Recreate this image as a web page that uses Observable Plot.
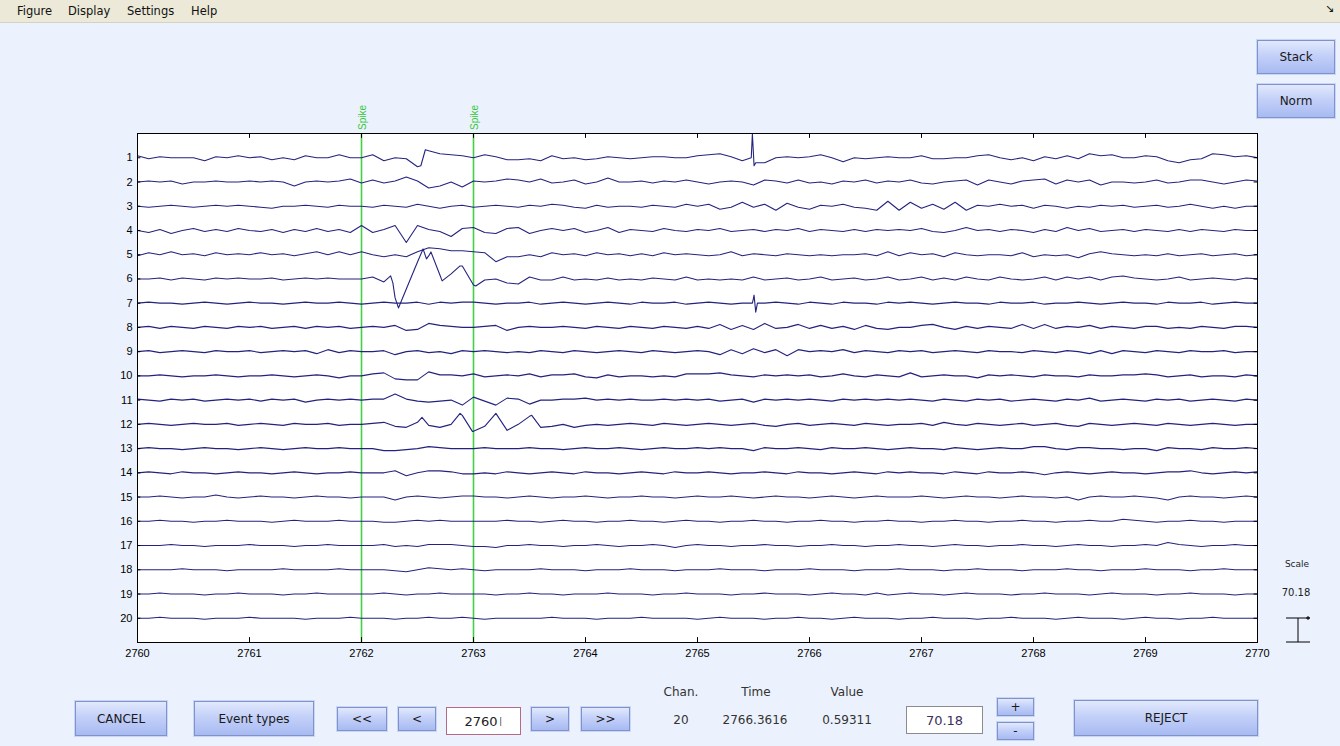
<!DOCTYPE html>
<html><head><meta charset="utf-8">
<script src="https://cdn.jsdelivr.net/npm/d3@7"></script>
<script src="https://cdn.jsdelivr.net/npm/@observablehq/plot@0.6"></script>
<style>
body{margin:0;width:1340px;height:746px;background:#ecf2fd;position:relative;overflow:hidden;font-family:"DejaVu Sans",sans-serif;}
#menu{position:absolute;left:0;top:0;width:1340px;height:22px;background:#ece9d8;border-bottom:1px solid #d6d2bf;font-size:11.5px;color:#111;z-index:2;}
#menu span{position:absolute;top:4px;}
#chart{position:absolute;left:0;top:0;}
.btn{position:absolute;box-sizing:border-box;border:1px solid #7f93c8;background:linear-gradient(#e2e9fd,#c3d0f8 45%,#a8baf2);box-shadow:0 0 0 1px #c9d6f8;font-size:12px;color:#1a1a1a;display:flex;align-items:center;justify-content:center;}
.inp{position:absolute;box-sizing:border-box;background:#fff;border:1px solid #8c8c8c;font-size:13px;color:#222;display:flex;align-items:center;justify-content:center;}
.lbl{position:absolute;font-size:12px;color:#333;transform:translateX(-50%);white-space:nowrap;}
</style></head><body>
<div id="menu"><span style="left:17px">Figure</span><span style="left:68px">Display</span><span style="left:127px">Settings</span><span style="left:191px">Help</span><span style="left:1325px;top:2px;font-size:11px">&#x2198;</span></div>
<div id="chart"></div>
<div class="btn" style="left:1257px;top:40px;width:78px;height:34px">Stack</div>
<div class="btn" style="left:1257px;top:84px;width:78px;height:34px">Norm</div>
<div class="lbl" style="left:1297px;top:559px;font-size:9px;color:#222">Scale</div>
<div class="lbl" style="left:1296px;top:587px;font-size:10px;color:#222">70.18</div>
<svg style="position:absolute;left:1280px;top:612px" width="40" height="36"><path d="M6,6H30M18,6V30M6,30H30M28,4V8M26,6H30" stroke="#000" stroke-width="1" fill="none"/></svg>
<div class="btn" style="left:75px;top:701px;width:92px;height:35px">CANCEL</div>
<div class="btn" style="left:194px;top:701px;width:120px;height:35px">Event types</div>
<div class="btn" style="left:337px;top:707px;width:50px;height:24px">&lt;&lt;</div>
<div class="btn" style="left:398px;top:707px;width:38px;height:24px">&lt;</div>
<div class="inp" style="left:446px;top:707px;width:75px;height:28px;border-color:#b26a86">2760<span style="font-weight:300;margin-left:1px">I</span></div>
<div class="btn" style="left:531px;top:707px;width:38px;height:24px">&gt;</div>
<div class="btn" style="left:581px;top:707px;width:49px;height:24px">&gt;&gt;</div>
<div class="lbl" style="left:681px;top:685px">Chan.</div>
<div class="lbl" style="left:756px;top:685px">Time</div>
<div class="lbl" style="left:847px;top:685px">Value</div>
<div class="lbl" style="left:681px;top:713px">20</div>
<div class="lbl" style="left:755px;top:713px">2766.3616</div>
<div class="lbl" style="left:847px;top:713px">0.59311</div>
<div class="inp" style="left:906px;top:706px;width:77px;height:28px;color:#403060">70.18</div>
<div class="btn" style="left:997px;top:698px;width:37px;height:18px">+</div>
<div class="btn" style="left:997px;top:722px;width:37px;height:18px">-</div>
<div class="btn" style="left:1074px;top:700px;width:184px;height:36px">REJECT</div>
<script>
// time axis
const t0 = 2760, t1 = 2770, dt = 0.1;
const xTicks = [2760, 2761, 2762, 2763, 2764, 2765, 2766, 2767, 2768, 2769, 2770];
const channels = d3.range(1, 21);
const spikeTimes = [2762, 2763];
const spikeLabel = "Spike";
const scaleValue = 70.18;           // µV per channel spacing
const unitsPerChannel = 24.24;      // amplitude units per channel spacing

// amplitudes sampled every 0.1 s from 2760.0 to 2770.0 (positive = up)
const ch1 = [2,-1,1,0,0,0,-3,1,0,2, 0,1,-2,0,-2,2,0,0,3,0, 0,3,-3,0,-1,-9,7,4,3,2, 0,3,1,-2,
 -2,-1,-3,2,-1,0,-2,-1,1,0, -1,0,1,1,0,0,2,3,4,1, -3,3,-5,0,1,0,1,3,0,-4, 0,-1,0,1,0,
 0,2,-1,-1,0,0,2,3,0,-2, 0,-3,1,-1,2,-1,4,2,3,0, 0,2,1,-3,-5,-2,-1,4,3,1, 2,0];
const ch2 = [0,1,0,1,-2,0,0,1,0,0, 1,0,1,0,-4,0,1,0,1,3, -1,2,-1,1,5,1,-6,-4,0,-5, 1,0,1,3,
 2,0,3,-1,0,2,-2,0,4,0, 0,1,-1,1,0,2,0,-2,0,1, 0,-3,2,1,-1,2,-1,0,-2,1, 0,2,-1,1,0,
 2,-1,-2,0,1,2,-3,2,0,-2, 1,2,3,-2,2,0,2,-3,0,0, -1,0,2,-1,0,2,2,0,-2,0, 2,1];
const ch3 = [0,-1,0,1,0,-1,0,1,0,1, 0,-1,-2,0,0,1,0,-1,1,0, 0,-1,1,0,-1,2,0,-2,0,1, -1,0,1,0,
 -1,1,0,2,1,-1,-2,1,-1,0, 0,-1,1,0,-1,2,0,2,-3,-1, 4,-1,2,-4,3,-1,-3,1,0,2, -1,-2,-4,5,-4,
 4,-2,2,-3,4,-4,1,0,2,0, 1,-2,1,0,-2,0,-1,1,0,1, -1,0,1,-1,0,2,0,-2,0,-2, 0,0];
const ch4 = [0,-2,1,-3,0,2,-1,1,-1,2, 0,-1,1,-2,1,-1,2,-1,1,-2, 5,-2,1,5,-12,5,1,-1,-6,2, 3,-2,-3,2,
 3,-3,0,2,0,2,-2,0,3,-2, 1,0,-1,2,0,-1,1,0,2,-1, 0,1,-1,1,0,2,-1,1,0,-1, 1,-1,1,0,1,
 0,2,-1,-2,0,3,0,1,-1,1, 0,-2,1,-1,3,0,2,-1,0,1, -1,1,0,-1,1,-1,1,0,-1,1, 0,0];
const ch5 = [-1,2,0,3,0,1,-1,2,0,1, 0,2,0,1,-1,1,3,0,3,0, 3,0,-2,0,-2,3,7,6,4,4, 3,2,-7,-2,
 -2,0,-2,2,0,1,-1,2,0,1, -1,1,-1,2,0,1,0,-1,0,3, -1,1,0,-1,1,0,-1,0,-1,0, 0,1,-1,3,-1,
 2,0,1,-2,2,0,-1,0,0,-1, 2,-2,0,-1,0,-3,1,3,1,0, -1,0,-1,1,-1,0,1,-1,0,1, -1,0];
const ch6 = [0,0,1,-1,1,0,-1,1,0,1, 0,0,1,-1,0,1,0,1,0,0, 0,2,-3,-19,-10,17,23,4,5,13, -6,-1,0,-4,
 -5,2,-1,-1,2,-1,0,-1,1,-1, 0,-1,1,0,-1,2,-1,0,-1,0, -1,2,-1,0,1,-1,0,2,-1,0, 1,-1,0,2,-1,
 0,2,-1,1,-1,2,0,-1,2,0, -1,0,2,-1,2,0,2,-1,2,3, 1,0,-1,0,2,-1,0,1,0,-1, 1,0];
const ch7 = [0,1,0,0,-1,0,1,0,-1,0, 1,0,0,-1,0,1,0,0,1,0, -1,0,1,0,0,1,-1,1,0,1, 1,0,-1,0,
 0,1,-1,0,1,0,-1,0,1,0, -1,1,0,0,1,-1,0,1,0,-1, 0,5,0,1,0,-1,1,0,-1,1, 0,0,-1,1,0,
 1,0,-1,0,1,0,0,-1,1,0, 0,1,-1,0,0,1,0,-1,0,1, 0,0,-1,1,0,0,1,-1,0,1, 0,0];
const ch8 = [0,1,-1,1,0,-1,1,0,-1,1, 0,1,-1,0,1,-1,1,0,1,-1, 0,1,0,2,-3,-2,4,2,1,0, 0,1,2,-3,
 0,1,0,0,1,0,-1,1,0,-1, 1,0,-1,1,0,-1,1,-1,3,-2, 2,-2,4,-1,0,3,-1,2,-1,1, -2,2,-1,-2,0,
 0,2,3,0,-2,1,-1,1,0,-1, 3,-1,3,-1,1,0,2,-1,1,0, -1,1,1,-1,0,-1,1,0,-1,1, 1,0];
const ch9 = [0,1,-1,0,1,0,-1,1,0,0, 1,-1,0,1,0,1,-2,2,-1,1, 0,0,1,-3,0,1,-1,0,-2,1, 0,1,0,-1,
 0,-1,1,0,-1,1,0,-1,0,1, 0,-1,1,0,-1,0,1,0,-3,2, -2,3,-1,2,-4,2,0,1,0,2, -1,1,0,-1,1,
 0,1,-1,0,1,0,-1,1,0,0, -1,1,0,-1,1,0,-2,1,-2,1, 0,-1,1,0,-1,1,0,0,1,-1, 0,0];
const ch10 = [0,0,1,0,-1,0,0,1,0,-1, 0,0,1,0,-1,0,1,0,-2,0, 0,2,3,-3,-4,-4,4,1,1,0, 2,-1,0,1,
 0,2,-1,1,1,2,-1,-2,1,-1, 0,0,-1,0,-1,2,2,2,3,1, 0,-1,1,0,1,0,1,-1,0,2, 0,-1,1,0,-1,
 3,-1,0,1,0,0,-2,1,0,1, 0,-1,1,0,0,-1,1,0,0,1, 1,2,1,-1,0,1,-1,0,0,-1, 1,0];
const ch11 = [1,0,-1,1,0,1,-1,0,1,0, 1,-1,1,0,1,-2,0,1,0,1, 0,1,1,6,1,-1,-2,-1,0,-5, 3,-1,-5,2,
 1,-4,0,0,1,1,2,0,1,0, 1,0,0,1,0,1,0,1,-1,0, 1,-2,1,0,1,0,1,0,-1,1, 0,1,0,1,0,
 1,0,-1,1,0,-1,1,0,1,-1, 0,1,0,-1,1,0,2,-1,0,1, 0,-1,1,0,1,-1,0,1,0,-1, 1,0];
const ch12 = [0,1,0,-1,0,1,0,0,1,-1, 0,1,0,-1,1,0,0,1,-1,0, 0,1,2,-2,-3,2,-1,-3,0,9, -7,-2,11,-6,
 0,8,-3,-2,0,-3,-1,0,-1,0, 1,0,-1,1,0,-1,0,1,0,-1, 0,1,-1,-2,0,1,-1,0,1,0, -1,1,0,-1,0,
 0,1,-1,2,0,-1,1,0,-1,0, 1,-1,0,1,-1,-2,1,0,-1,0, 1,0,-1,1,0,-1,0,1,0,-1, 0,0];
const ch13 = [0,1,0,0,-1,0,1,0,0,-1, 0,1,0,-1,0,1,0,0,1,0, 0,0,-2,-2,-1,0,2,1,0,0, 0,1,0,0,
 0,1,0,0,-1,0,1,0,0,1, 0,-1,0,1,0,0,1,0,1,0, 0,-2,1,0,0,1,0,-1,1,0, 0,1,0,-1,0,
 1,0,0,-1,1,0,-1,0,1,0, 0,2,2,0,-1,1,1,0,0,-1, 0,0,-2,1,0,0,-1,1,0,0, 1,0];
const ch14 = [0,1,0,-1,1,0,0,-1,0,1, 0,0,-1,0,1,0,-1,0,0,1, 0,0,0,2,-3,0,2,2,1,-1, -1,0,-1,1,
 0,-1,0,1,0,-1,1,0,0,-1, 0,1,0,-1,1,0,0,1,0,-1, 0,0,1,0,-1,1,0,0,-1,0, 1,0,-1,1,0,
 1,0,0,-1,1,0,-1,1,0,0, 1,0,-2,0,1,0,-1,0,1,0, 0,-1,0,1,1,2,0,-1,0,1, 0,1];
const ch15 = [0,0,1,0,-1,0,0,2,0,-1, 0,1,0,0,-1,0,1,0,0,-1, 0,0,0,-3,0,1,0,-1,0,1, 1,0,0,-1,
 0,1,0,-1,0,0,1,0,-1,0, 0,1,0,0,-1,0,1,0,0,1, 0,-1,0,1,0,0,-1,0,1,0, -1,0,1,0,0,
 0,1,0,-1,0,1,0,0,-1,0, 1,0,0,-1,0,-3,0,1,0,0, 1,0,-1,-3,0,1,0,0,-1,0, 1,0];
const ch16 = [0,0,1,0,0,-1,0,0,1,0, 0,0,-1,0,1,0,0,0,1,0, 0,0,-1,-1,0,1,0,1,0,0, 0,0,0,1,
 0,0,-1,0,1,0,0,-1,0,0, 1,0,0,-1,0,1,0,0,-1,0, 0,1,0,0,-1,0,0,1,0,0, -1,0,0,1,0,
 0,-1,0,0,1,0,0,-1,0,0, 1,0,0,-1,0,0,1,0,0,2, 1,0,-1,0,0,1,0,0,-1,0, 0,0];
const ch17 = [0,0,0,1,0,0,-1,0,0,0, 1,0,0,0,-1,0,0,1,0,0, 0,0,1,-1,0,-1,1,1,1,0, -1,-1,-2,0,
 0,1,0,0,-1,0,0,1,0,-1, 0,0,1,0,-2,0,1,0,0,-1, 0,0,1,0,0,-1,0,0,1,0, 0,-1,0,0,1,
 0,0,-1,0,1,0,0,-1,0,0, 1,0,0,-1,0,1,0,0,-1,0, 0,1,0,3,1,0,-1,0,0,1, 0,0];
const ch18 = [0,0,0,0,1,0,0,0,-1,0, 0,0,0,1,0,0,0,0,1,0, 0,0,0,-1,-2,0,2,1,0,1, 0,-1,0,0,
 0,0,1,0,0,0,-1,0,0,0, 1,0,0,0,-1,0,0,0,1,0, 0,0,-1,0,0,0,1,0,0,0, -1,0,0,0,1,
 0,0,0,-1,0,0,1,0,0,0, -1,0,0,0,1,0,0,-1,0,0, 0,1,0,0,0,-1,0,0,1,0, 0,0];
const ch19 = [0,0,1,0,0,0,-1,0,0,1, 0,0,0,-1,0,0,1,0,0,0, 0,0,1,0,-1,0,0,1,0,0, 0,0,-1,0,
 0,1,0,0,-1,0,0,0,1,0, 0,0,-1,0,0,1,0,0,0,-1, 0,0,1,0,0,0,-1,0,1,0, 0,-1,1,-1,0,
 1,0,0,-1,0,1,0,0,0,-1, 0,0,1,0,0,0,-1,0,1,0, 0,0,-1,0,0,1,0,0,0,-1, 0,0];
const ch20 = [0,0,1,0,0,0,-1,0,0,0, 1,0,0,0,0,-1,0,0,0,1, 0,0,0,-1,0,0,1,0,0,1, 0,-1,0,0,
 0,0,0,1,0,0,0,-1,0,0, 0,1,0,0,0,0,-1,0,1,0, 0,0,-1,0,0,1,0,0,-1,0, 1,0,0,0,-1,
 0,0,1,0,0,0,-1,0,0,1, 0,0,0,-1,0,1,0,0,0,-1, 0,1,0,0,-1,0,0,1,0,0, 0,0];

// extra points at sharp transients: [time, amplitude]
const ev1 = [[2762.53,-8],[2762.57,8],[2765.48,0],[2765.49,24],[2765.505,-8],[2765.52,-5]];
const ev6 = [[2762.26,3],[2762.28,-4],[2762.33,-29],[2762.55,30],[2762.58,20],[2762.62,27],[2762.72,-2],[2762.88,13],[2763.02,-7]];
const ev7 = [[2765.49,0],[2765.505,8],[2765.52,-9],[2765.535,0]];
const ev12 = [[2762.54,7],[2762.88,11],[2762.99,-7],[2763.52,9]];

const traces = [ch1,ch2,ch3,ch4,ch5,ch6,ch7,ch8,ch9,ch10,ch11,ch12,ch13,ch14,ch15,ch16,ch17,ch18,ch19,ch20];
const events = {1: ev1, 6: ev6, 7: ev7, 12: ev12};

const points = [];
traces.forEach((arr, k) => {
  const ch = k + 1;
  const pts = arr.map((v, i) => ({t: +(t0 + i * dt).toFixed(3), v}));
  (events[ch] || []).forEach(([t, v]) => pts.push({t, v}));
  pts.sort((a, b) => a.t - b.t);
  pts.forEach(p => points.push({ch, t: p.t, y: ch - p.v / unitsPerChannel}));
});

const chart = Plot.plot({
  width: 1340, height: 746,
  marginTop: 133, marginBottom: 104, marginLeft: 137, marginRight: 83,
  style: {background: "transparent", fontFamily: "'Liberation Sans', Arial, sans-serif", fontSize: "11px", color: "#000"},
  x: {domain: [t0, t1], label: null},
  y: {domain: [0, 21], reverse: true, label: null},
  marks: [
    Plot.frame({fill: "white", stroke: "none"}),
    Plot.ruleX(spikeTimes, {stroke: "#44d044", strokeWidth: 1.6}),
    Plot.line(points, {x: "t", y: "y", z: "ch", stroke: "#23237f", strokeWidth: 1.1, clip: true}),
    Plot.ruleX(xTicks, {y1: 21, y2: 20.8, stroke: "#000"}),
    Plot.ruleX(xTicks, {y1: 0, y2: 0.2, stroke: "#000"}),
    Plot.ruleY(channels, {x1: t0, x2: t0 + 0.03, stroke: "#000"}),
    Plot.ruleY(channels, {x1: t1 - 0.03, x2: t1, stroke: "#000"}),
    Plot.frame({stroke: "#000", strokeWidth: 1}),
    Plot.axisX({ticks: xTicks, tickSize: 0, tickPadding: 7, tickFormat: d3.format("d"), fontSize: 11}),
    Plot.axisY({ticks: channels, tickSize: 0, tickPadding: 5, fontSize: 11}),
    Plot.text(spikeTimes, {x: d => d, text: () => spikeLabel, frameAnchor: "top", dy: -16, dx: -3, rotate: -90, fill: "#33c833", fontSize: 10})
  ]
});
document.getElementById("chart").appendChild(chart);
</script>
</body></html>
